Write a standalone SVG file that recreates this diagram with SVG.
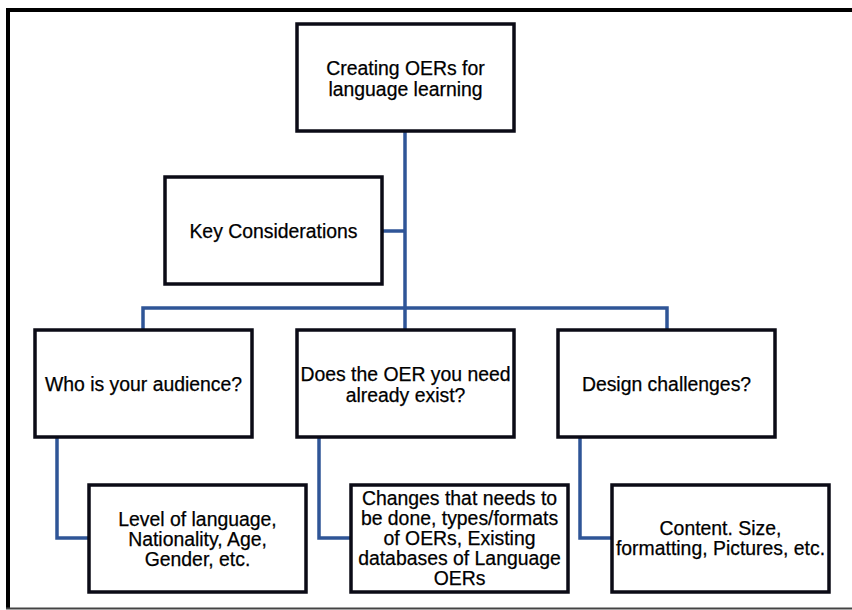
<svg xmlns="http://www.w3.org/2000/svg" width="852" height="610" viewBox="0 0 852 610">
<style>
.box{fill:#fff;stroke:#0b0b16;stroke-width:3.5}
.t{font-family:"Liberation Sans",Arial,sans-serif;font-size:19.4px;fill:#000;stroke:#000;stroke-width:0.25;text-anchor:middle}
.c{fill:none;stroke:#2f5597;stroke-width:3.5}
</style>
<rect x="0" y="0" width="852" height="610" fill="#fff"/>
<g id="frame">
<line x1="6" y1="10" x2="852" y2="10" stroke="#000" stroke-width="4"/>
<line x1="8" y1="8" x2="8" y2="609" stroke="#000" stroke-width="4"/>
<line x1="6" y1="608.5" x2="852" y2="608.5" stroke="#444" stroke-width="2"/>
</g>
<g id="connectors">
<path class="c" d="M405,131 V330"/>
<path class="c" d="M383,231 H405"/>
<path class="c" d="M143,330 V308 H667 V330"/>
<path class="c" d="M57,437 V538 H89"/>
<path class="c" d="M319,437 V538 H351"/>
<path class="c" d="M580,437 V538 H612"/>
</g>
<g id="n-root">
<rect class="box" x="297" y="24" width="217" height="107"/>
<text class="t" x="405.5" y="75">Creating OERs for</text>
<text class="t" x="405.5" y="96">language learning</text>
</g>
<g id="n-key">
<rect class="box" x="165" y="177" width="217" height="107"/>
<text class="t" x="273.5" y="238">Key Considerations</text>
</g>
<g id="n-audience">
<rect class="box" x="35" y="330" width="217" height="107"/>
<text class="t" x="143.5" y="391">Who is your audience?</text>
</g>
<g id="n-exist">
<rect class="box" x="297" y="330" width="217" height="107"/>
<text class="t" x="405.5" y="381">Does the OER you need</text>
<text class="t" x="405.5" y="402">already exist?</text>
</g>
<g id="n-design">
<rect class="box" x="558" y="330" width="217" height="107"/>
<text class="t" x="666.5" y="391">Design challenges?</text>
</g>
<g id="n-level">
<rect class="box" x="89" y="485" width="217" height="107"/>
<text class="t" x="197.5" y="526">Level of language,</text>
<text class="t" x="197.5" y="546">Nationality, Age,</text>
<text class="t" x="197.5" y="566">Gender, etc.</text>
</g>
<g id="n-changes">
<rect class="box" x="351" y="485" width="217" height="107"/>
<text class="t" x="459.5" y="505">Changes that needs to</text>
<text class="t" x="459.5" y="525">be done, types/formats</text>
<text class="t" x="459.5" y="545">of OERs, Existing</text>
<text class="t" x="459.5" y="565">databases of Language</text>
<text class="t" x="459.5" y="585">OERs</text>
</g>
<g id="n-content">
<rect class="box" x="612" y="485" width="217" height="107"/>
<text class="t" x="720.5" y="535">Content. Size,</text>
<text class="t" x="720.5" y="555">formatting, Pictures, etc.</text>
</g>
</svg>
